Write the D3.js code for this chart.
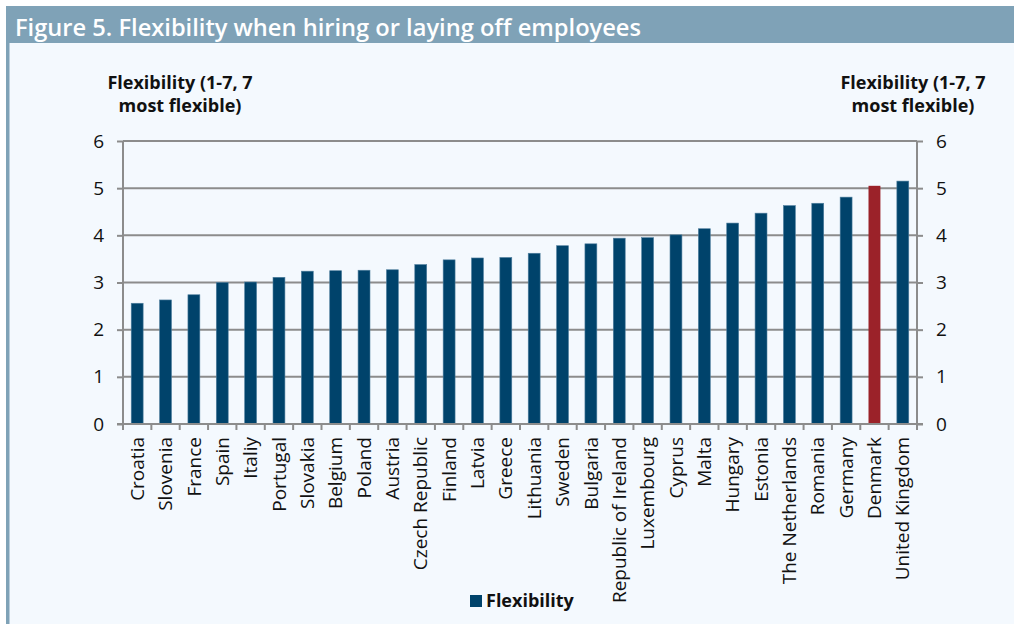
<!DOCTYPE html>
<html>
<head>
<meta charset="utf-8">
<script src="https://cdn.jsdelivr.net/npm/d3@7"></script>
<style>
  html, body { margin: 0; padding: 0; background: #ffffff; }
  svg { display: block; }
  text { font-family: "Open Sans", "DejaVu Sans", sans-serif; }
</style>
</head>
<body>
<svg id="chart" width="1014" height="624"></svg>
<script>
// Countries, ordered from least to most flexible
const countries = [
  "Croatia", "Slovenia", "France", "Spain", "Italiy", "Portugal", "Slovakia",
  "Belgium", "Poland", "Austria", "Czech Republic", "Finland", "Latvia", "Greece",
  "Lithuania", "Sweden", "Bulgaria", "Republic of Ireland", "Luxembourg", "Cyprus",
  "Malta", "Hungary", "Estonia", "The Netherlands", "Romania", "Germany",
  "Denmark", "United Kingdom"
];
// Flexibility score (1-7 scale)
const flexibility = [
  2.56, 2.63, 2.74, 3.00, 3.01, 3.11, 3.24,
  3.25, 3.26, 3.27, 3.38, 3.48, 3.52, 3.53,
  3.62, 3.78, 3.82, 3.94, 3.95, 4.01,
  4.14, 4.26, 4.47, 4.63, 4.68, 4.81,
  5.05, 5.15
];
const highlighted = ["Denmark"];
const yTicks = [0, 1, 2, 3, 4, 5, 6];

const titleText = "Figure 5. Flexibility when hiring or laying off employees";
const axisTitleLines = ["Flexibility (1-7, 7", "most flexible)"];
const seriesName = "Flexibility";

const data = countries.map((c, i) => ({ country: c, value: flexibility[i] }));

const svg = d3.select("#chart");
const W = 1014, H = 624;
const frame = "#7fa2b7";
const barBlue = "#00436b";
const barRed = "#9b2229";
const gridGrey = "#8c8c8c";

// panel background and frame
svg.append("rect").attr("x", 0).attr("y", 0).attr("width", W).attr("height", H).attr("fill", "#ffffff");
svg.append("rect").attr("x", 6).attr("y", 6).attr("width", W - 6).attr("height", H - 6).attr("fill", "#f4f9fe");
svg.append("rect").attr("x", 6).attr("y", 6).attr("width", 3.5).attr("height", H - 6).attr("fill", frame);
svg.append("rect").attr("x", 6).attr("y", 6).attr("width", W - 6).attr("height", 37).attr("fill", frame);
svg.append("text")
  .attr("x", 15).attr("y", 36)
  .attr("fill", "#ffffff")
  .attr("font-size", 23).attr("font-weight", 600)
  .attr("textLength", 626).attr("lengthAdjust", "spacingAndGlyphs")
  .text(titleText);

// plot area
const plotLeft = 123, plotRight = 917, plotTop = 141, plotBottom = 424;

const x = d3.scaleBand()
  .domain(countries)
  .range([plotLeft, plotRight])
  .paddingInner(0.58)
  .paddingOuter(0.29);

const y = d3.scaleLinear().domain([0, 6]).range([plotBottom, plotTop]);

// horizontal gridlines
svg.append("g")
  .selectAll("line")
  .data(yTicks.filter(t => t > 0))
  .join("line")
  .attr("x1", plotLeft).attr("x2", plotRight)
  .attr("y1", d => y(d)).attr("y2", d => y(d))
  .attr("stroke", gridGrey).attr("stroke-width", 2);

// bars
svg.append("g")
  .selectAll("rect")
  .data(data)
  .join("rect")
  .attr("x", d => x(d.country))
  .attr("width", x.bandwidth())
  .attr("y", d => y(d.value))
  .attr("height", d => y(0) - y(d.value))
  .attr("fill", d => highlighted.includes(d.country) ? barRed : barBlue)
  .attr("stroke", d => highlighted.includes(d.country) ? "none" : "#4f7f9e")
  .attr("stroke-width", 0.6);

// left and right value axes
function styleAxis(g) {
  g.select(".domain").remove();
  g.selectAll(".tick line").attr("stroke", gridGrey).attr("stroke-width", 2);
  g.selectAll(".tick text")
    .attr("font-size", 19)
    .attr("fill", "#111111")
    .attr("font-family", "'Open Sans', sans-serif");
}

const yAxisL = d3.axisLeft(y).tickValues(yTicks).tickFormat(d3.format("d")).tickSize(6).tickPadding(13);
const yAxisR = d3.axisRight(y).tickValues(yTicks).tickFormat(d3.format("d")).tickSize(6).tickPadding(13);

svg.append("g").attr("transform", `translate(${plotLeft},0)`).call(yAxisL).call(styleAxis);
svg.append("g").attr("transform", `translate(${plotRight},0)`).call(yAxisR).call(styleAxis);

svg.append("line").attr("x1", plotLeft).attr("x2", plotLeft).attr("y1", plotTop).attr("y2", plotBottom)
  .attr("stroke", gridGrey).attr("stroke-width", 2);
svg.append("line").attr("x1", plotRight).attr("x2", plotRight).attr("y1", plotTop).attr("y2", plotBottom)
  .attr("stroke", gridGrey).attr("stroke-width", 2);

// category axis: baseline, boundary ticks and rotated labels
svg.append("line").attr("x1", plotLeft - 6).attr("x2", plotRight + 6).attr("y1", plotBottom).attr("y2", plotBottom)
  .attr("stroke", gridGrey).attr("stroke-width", 2);

const step = x.step();
const boundaries = d3.range(countries.length + 1).map(i => plotLeft + i * step);
svg.append("g")
  .selectAll("line")
  .data(boundaries)
  .join("line")
  .attr("x1", d => d).attr("x2", d => d)
  .attr("y1", plotBottom).attr("y2", plotBottom + 6)
  .attr("stroke", gridGrey).attr("stroke-width", 2);

svg.append("g")
  .selectAll("text")
  .data(countries)
  .join("text")
  .attr("transform", d => `translate(${x(d) + x.bandwidth() / 2},${plotBottom + 13}) rotate(-90)`)
  .attr("text-anchor", "end")
  .attr("dy", "0.35em")
  .attr("font-size", 19)
  .attr("fill", "#111111")
  .text(d => d);

// axis titles
function axisTitle(cx) {
  const t = svg.append("text")
    .attr("text-anchor", "middle")
    .attr("font-size", 18).attr("font-weight", 700)
    .attr("fill", "#111111");
  axisTitleLines.forEach((line, i) => {
    t.append("tspan").attr("x", cx).attr("y", 89 + i * 23).text(line);
  });
}
axisTitle(180);
axisTitle(913);

// legend
svg.append("rect").attr("x", 470).attr("y", 595).attr("width", 12).attr("height", 12).attr("fill", barBlue);
svg.append("text").attr("x", 486).attr("y", 607)
  .attr("font-size", 18).attr("font-weight", 700).attr("fill", "#111111")
  .text(seriesName);
</script>
</body>
</html>
